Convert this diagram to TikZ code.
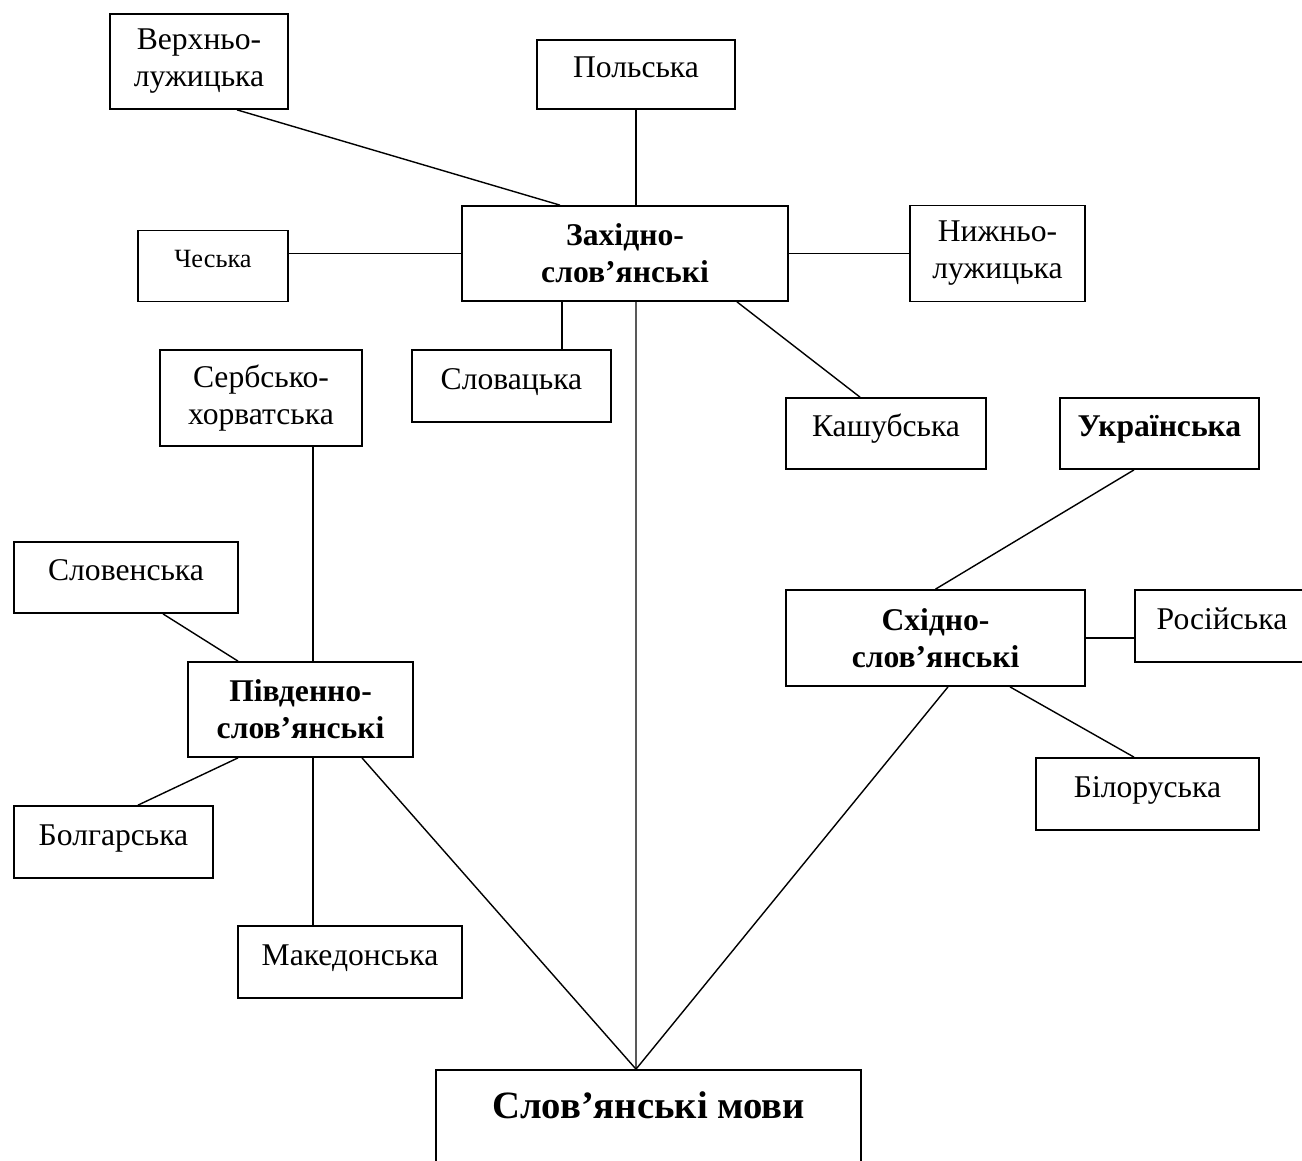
\documentclass[tikz,border=0pt]{standalone}
\usepackage{fontspec}
\setmainfont{Liberation Serif}
\usepackage{tikz}
\usetikzlibrary{positioning,calc}

\tikzset{
  lang/.style={draw, line width=1pt, align=center, inner sep=0pt,
    font=\fontsize{18}{21}\selectfont},
  group/.style={lang, font=\bfseries\fontsize{18}{21}\selectfont},
  oneline/.style={text height=0.48cm, text depth=0.36cm},
  link/.style={line width=0.8pt}
}

\begin{document}
\begin{tikzpicture}[x=0.02cm, y=-0.02cm]
        \useasboundingbox (0,0) rectangle (1302,1160);
        \clip (0,0) rectangle (1302,1160);

        % west slavic
        \node[group, minimum width=6.52cm, minimum height=1.9cm] (zah) at (625,253.5) {Західно-\\слов’янські};
        \node[lang, minimum width=3.56cm, minimum height=1.9cm] (verh) at (199,61.5) {Верхньо-\\лужицька};
        \node[lang, oneline, minimum width=3.96cm, minimum height=1.38cm] (pol) at (636,74.5) {Польська};
        \node[lang, minimum width=3cm, minimum height=1.42cm, font=\fontsize{15}{18}\selectfont,
              text height=0.4cm, text depth=0.36cm] (ches) at (213,266) {Чеська};
        \node[lang, minimum width=3.5cm, minimum height=1.92cm] (nyzh) at (997.5,253.5) {Нижньо-\\лужицька};
        \node[lang, oneline, minimum width=3.98cm, minimum height=1.44cm] (slovac) at (511.5,386) {Словацька};
        \node[lang, oneline, minimum width=4cm, minimum height=1.42cm] (kash) at (886,433.5) {Кашубська};

        % south slavic
        \node[group, minimum width=4.5cm, minimum height=1.9cm] (pivd) at (300.5,709.5) {Південно-\\слов’янські};
        \node[lang, minimum width=4.04cm, minimum height=1.92cm] (serb) at (261,398) {Сербсько-\\хорватська};
        \node[lang, oneline, minimum width=4.48cm, minimum height=1.42cm] (sloven) at (126,577.5) {Словенська};
        \node[lang, oneline, minimum width=3.98cm, minimum height=1.44cm] (bolg) at (113.5,842) {Болгарська};
        \node[lang, oneline, minimum width=4.48cm, minimum height=1.44cm] (maked) at (350,962) {Македонська};

        % east slavic
        \node[group, minimum width=5.98cm, minimum height=1.92cm] (shid) at (935.5,638) {Східно-\\слов’янські};
        \node[group, oneline, minimum width=3.98cm, minimum height=1.42cm] (ukr) at (1159.5,433.5) {Українська};
        \node[lang, oneline, minimum width=3.48cm, minimum height=1.44cm] (ros) at (1222,626) {Російська};
        \node[lang, oneline, minimum width=4.46cm, minimum height=1.44cm] (bilor) at (1147.5,794) {Білоруська};

        % root
        \node[draw, line width=1pt, inner ysep=0pt, minimum width=8.5cm, text height=0.96cm, text depth=1.24cm,
              font=\bfseries\fontsize{22}{26}\selectfont, anchor=base] (root) at (648.5,1118) {Слов’янські мови};

        \draw[link] ([xshift=0.76cm]verh.south) -- ([xshift=-1.3cm]zah.north);
        \draw[link] (pol.south) -- (pol.south |- zah.north);
        \draw[link] (zah.west -| ches.east) -- (zah.west);
        \draw[link] (zah.east) -- (nyzh.west);
        \draw[link] ([xshift=-1.26cm]zah.south) -- ([xshift=-1.26cm]zah.south |- slovac.north);
        \draw[link] ([xshift=2.24cm]zah.south) -- ([xshift=-0.52cm]kash.north);
        \draw[link] ([xshift=0.22cm]zah.south) -- ([xshift=-0.25cm]root.north);

        \draw[link] ([xshift=1.04cm]serb.south) -- ([xshift=1.04cm]serb.south |- pivd.north);
        \draw[link] ([xshift=0.74cm]sloven.south) -- ([xshift=-1.25cm]pivd.north);
        \draw[link] ([xshift=-1.25cm]pivd.south) -- ([xshift=0.49cm]bolg.north);
        \draw[link] ([xshift=0.25cm]pivd.south) -- ([xshift=0.25cm]pivd.south |- maked.north);
        \draw[link] ([xshift=1.23cm]pivd.south) -- ([xshift=-0.25cm]root.north);

        \draw[link] ([xshift=-0.51cm]ukr.south) -- (shid.north);
        \draw[link] (shid.east) -- (shid.east -| ros.west);
        \draw[link] ([xshift=1.49cm]shid.south) -- ([xshift=-0.27cm]bilor.north);
        \draw[link] ([xshift=0.25cm]shid.south) -- ([xshift=-0.25cm]root.north);

      \end{tikzpicture}
\end{document}
